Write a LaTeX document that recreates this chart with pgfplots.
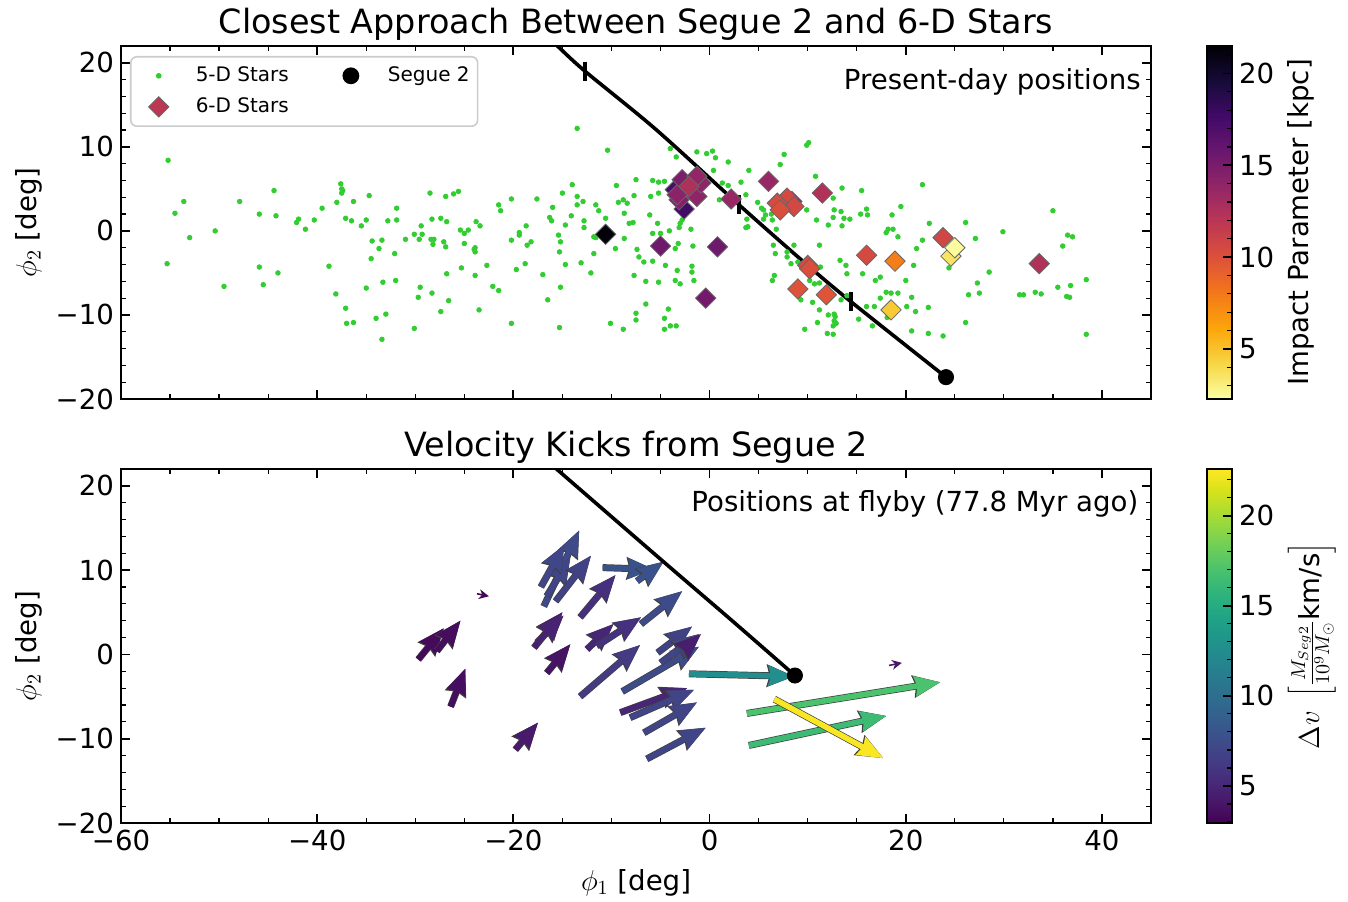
\documentclass[border=0pt]{standalone}
\usepackage{fontspec}
\setmainfont{DejaVu Sans}
\usepackage{pgfplots}
\pgfplotsset{compat=1.18}
\usetikzlibrary{arrows.meta}
\definecolor{limeg}{RGB}{50,205,50}
\definecolor{legdia}{RGB}{188,55,84}
\newcommand{\tfont}{\fontsize{13.8pt}{16pt}\selectfont}
\pgfplotsset{
  colormap={infernor}{rgb255=(252,255,164) rgb255=(246,215,70) rgb255=(252,165,10) rgb255=(243,120,25) rgb255=(221,81,58) rgb255=(188,55,84) rgb255=(147,38,103) rgb255=(106,23,110) rgb255=(66,10,104) rgb255=(22,11,57) rgb255=(0,0,4)},
  colormap/viridis,
  myaxis/.style={
    scale only axis, width=515pt,
    xmin=-60, xmax=45, ymin=-20, ymax=22,
    axis line style={line width=0.9pt},
    tick align=inside, tick pos=both,
    xtick={-60,-40,-20,0,20,40}, minor xtick={-55,-50,...,45},
    ytick={-20,-10,0,10,20}, minor ytick={-18,-16,...,22},
    major tick length=4.5pt, minor tick length=2.5pt,
    major tick style={line width=0.9pt, black},
    minor tick style={line width=0.6pt, black},
    yticklabels={−20,−10,0,10,20},
    tick label style={font=\tfont},
    label style={font=\tfont},
    title style={font=\fontsize{16.7pt}{20pt}\selectfont, at={(0.5,1)}, anchor=base, yshift=0.5pt, inner sep=0pt},
    ylabel={$\phi_2$ [deg]},
  },
  cbaxis/.style={
    scale only axis, width=12.5pt,
    xmin=0, xmax=1, xtick=\empty,
    axis line style={line width=0.8pt},
    tick align=inside, ytick pos=right, yticklabel pos=right,
    major tick length=4.5pt, minor tick length=2.5pt,
    major tick style={line width=0.9pt, black},
    minor tick style={line width=0.6pt, black},
    ytick={5,10,15,20}, yticklabels={5,10,15,20},
    tick label style={font=\tfont},
    label style={font=\tfont},
    axis on top,
  },
}
\begin{document}
\begin{tikzpicture}
\useasboundingbox (0,0) rectangle (674pt,450.5pt);

% ---------------- TOP PANEL ----------------
\begin{axis}[myaxis, at={(60.5pt,251pt)}, anchor=south west, height=176.5pt,
  xticklabels={},
  title={Closest Approach Between Segue 2 and 6-D Stars},
  colormap name=infernor, point meta min=2.27, point meta max=21.5,
  legend columns=2, legend cell align=left,
  legend image code/.code={\path[draw=none,fill=none] (-10pt,-5pt) rectangle (18.5pt,5pt); \draw[sharp corners,#1] plot coordinates {(0pt,0pt)};},
  legend style={at={(axis description cs:0.0087,0.9717)}, anchor=north west,
    draw=black!20, line width=0.8pt, rounded corners=3pt, fill=white,
    font=\fontsize{10pt}{12pt}\selectfont, inner xsep=4pt, inner ysep=4.5pt,
    row sep=5.5pt, column sep=0pt, nodes={inner sep=0pt},
    /tikz/every even column/.append style={column sep=21pt}},
]
\addplot[only marks, mark=*, mark size=1.15pt, color=limeg, forget plot] table {
x y
-55.2 8.4
-54.5 2.1
-53.6 3.5
-53.0 -0.8
-55.3 -3.9
-50.4 0.0
-49.5 -6.6
-47.9 3.5
-45.9 2.0
-44.4 4.8
-44.2 1.8
-45.9 -4.3
-45.5 -6.4
-44.0 -5.0
-42.1 1.0
-41.9 1.4
-41.2 0.2
-40.3 1.3
-39.5 2.7
-38.8 -4.2
-38.1 -7.5
-38.0 3.4
-37.6 5.6
-37.5 5.0
-37.4 4.8
-37.5 4.5
-37.1 1.5
-37.1 -9.2
-37.0 -11.0
-36.3 -10.9
-36.5 1.2
-36.3 3.5
-35.5 0.6
-35.0 1.3
-34.7 4.2
-35.0 -6.8
-34.5 -3.3
-34.4 -1.2
-33.4 -1.1
-33.7 -2.1
-33.3 -6.1
-34.0 -10.4
-33.0 -9.9
-33.4 -12.9
-32.8 1.2
-32.1 -2.7
-32.0 -5.9
-31.9 2.7
-31.9 1.3
-31.0 -1.0
-30.1 -0.4
-29.6 -1.0
-30.1 -11.6
-29.7 -7.9
-29.5 -6.7
-29.4 0.6
-13.5 12.2
-10.4 9.6
-28.5 4.5
-26.9 4.1
-26.1 4.4
-25.6 4.7
-21.5 3.1
-21.3 2.4
-20.2 3.8
-17.6 3.8
-16.0 2.8
-15.0 4.5
-14.0 5.5
-13.5 4.1
-13.5 3.1
-12.9 3.5
-11.6 3.1
-11.3 2.4
-10.6 1.5
-9.5 5.4
-9.3 3.4
-8.8 3.7
-8.4 3.3
-8.7 2.1
-7.5 6.1
-7.7 4.2
-8.2 0.9
-7.8 1.0
-5.8 6.0
-5.2 5.8
-4.6 5.9
-6.0 4.1
-5.2 4.5
-4.0 9.8
-3.4 8.8
-1.3 9.4
-6.1 1.9
-5.3 0.9
-3.0 0.9
-2.8 1.3
-3.1 0.4
-1.9 0.2
-4.1 0.0
-5.8 -0.3
-5.0 -0.3
-29.3 -0.4
-28.3 1.4
-27.4 1.5
-26.8 1.1
-28.4 -1.0
-28.1 -1.0
-28.2 -1.6
-27.1 -1.3
-26.9 -1.9
-25.4 0.1
-25.0 -0.3
-24.6 0.1
-25.0 -1.5
-23.8 1.1
-23.4 0.6
-24.0 -2.2
-23.9 -2.0
-23.9 -2.5
-25.3 -4.4
-26.8 -5.1
-23.9 -5.3
-22.7 -4.1
-28.3 -7.4
-26.6 -8.3
-27.4 -9.6
-23.5 -9.4
-22.1 -6.6
-21.5 -7.1
-20.2 -1.1
-19.4 -0.2
-19.4 -0.5
-18.7 0.6
-18.6 -1.7
-18.2 -1.3
-18.8 -3.9
-19.7 -4.6
-17.0 -5.2
-20.2 -11.0
-16.5 -8.2
-15.2 -6.7
-15.3 -11.5
-16.3 1.6
-16.1 1.2
-15.4 -0.5
-15.2 -1.3
-15.3 -2.5
-14.7 0.7
-14.1 1.8
-14.7 -4.0
-13.1 -3.8
-12.1 -5.0
-12.8 1.2
-12.8 0.4
-11.8 -0.7
-11.6 -0.8
-11.8 -2.7
-9.6 -2.1
-8.7 -0.9
-10.1 -11.0
-8.8 -11.7
-7.7 -5.3
-7.4 -2.2
-7.2 -3.1
-6.7 -3.7
-5.8 -3.6
-6.5 -6.0
-6.5 -8.7
-7.5 -9.8
-7.5 -10.6
-5.2 -6.1
-4.5 -4.1
-3.5 -5.9
-3.0 -6.3
-3.3 -4.7
-3.5 -2.1
-3.2 -1.5
-1.8 -4.2
-1.8 -4.9
-1.7 -1.8
-1.6 -5.9
-4.2 -9.3
-4.6 -10.4
-4.0 -11.3
-3.4 -11.3
-4.6 -11.7
0.3 9.5
-0.3 9.2
0.6 8.7
1.9 8.2
0.4 7.2
1.3 5.7
1.9 5.4
3.2 5.8
4.0 7.2
3.7 4.3
1.0 3.7
4.9 3.4
5.3 2.7
5.5 2.5
6.3 2.0
6.6 2.4
5.7 1.9
7.2 7.9
7.6 9.1
9.9 10.2
10.1 10.5
3.8 1.4
3.9 0.5
3.7 0.4
6.8 0.2
5.5 1.4
6.4 1.3
9.9 2.5
10.8 6.5
13.5 5.1
12.6 3.9
12.7 2.5
13.4 2.3
13.7 1.5
14.3 1.4
12.6 1.6
12.1 0.7
13.5 0.6
10.9 1.3
15.5 4.8
16.0 2.6
16.1 1.9
15.4 2.0
18.6 1.9
18.2 0.2
18.7 0.2
18.0 -0.2
19.2 -0.7
11.2 -1.7
8.6 -1.7
6.5 -1.7
6.7 -2.7
7.9 -2.5
7.9 -3.1
8.3 -3.9
9.0 -3.7
11.3 -4.3
13.3 -3.5
13.9 -4.1
14.0 -5.1
15.6 -5.1
16.9 -5.9
17.4 -5.5
16.0 -3.6
18.8 -3.9
19.2 -3.8
6.4 -5.9
10.2 -5.9
6.6 -5.3
10.7 -6.3
11.2 -6.2
9.3 -8.2
10.5 -8.5
11.2 -9.4
12.1 -10.0
12.7 -9.9
12.8 -10.2
12.7 -10.7
12.9 -11.0
12.6 -11.3
12.0 -12.2
12.6 -12.3
11.0 -10.9
9.7 -11.7
13.4 -8.2
14.0 -7.7
15.2 -10.5
16.0 -9.0
16.8 -9.0
16.6 -11.3
17.4 -8.0
18.0 -7.3
18.5 -7.4
19.2 -7.4
18.1 -10.3
21.7 5.5
19.5 2.9
22.4 0.9
26.1 1.0
21.7 -1.1
21.1 -2.1
27.1 -0.9
29.9 -0.1
35.0 2.4
36.5 -0.5
37.0 -0.7
36.0 -1.8
20.8 -4.1
24.4 -4.4
28.5 -4.9
20.0 -5.9
27.3 -6.2
20.6 -7.9
26.4 -7.6
27.5 -7.4
31.6 -7.6
32.0 -7.6
33.2 -7.3
33.8 -7.5
35.5 -6.7
36.8 -6.5
36.4 -7.8
36.7 -7.9
38.4 -5.8
20.1 -9.0
21.0 -9.6
22.3 -9.1
26.1 -10.9
20.6 -11.9
22.3 -12.2
23.8 -12.5
38.4 -12.3
};
% orbit
\addplot[black, line width=1.8pt, smooth, forget plot] coordinates {
(-17,23.6) (-15.6,22.1) (-12.7,19.0) (-5.5,12.1) (3.0,3.1) (10.0,-4.1) (14.6,-8.6) (24.1,-17.4)};
\addplot[only marks, mark=|, mark size=4.8pt, mark options={line width=1.7pt}, black, forget plot] coordinates {
(-12.7,19.0) (3.0,3.1) (14.4,-8.4)};
% 6-D stars
\addplot[scatter, only marks, mark=square*, mark size=3.6pt, point meta=\thisrow{c},
  scatter/use mapped color={draw=black!60, fill=mapped color},
  mark options={rotate=45, line width=0.4pt}, forget plot] table {
x y c
-10.6 -0.4 21.3
-5.0 -1.8 15.5
0.8 -1.9 15.5
-0.4 -8.0 15.3
-3.5 4.9 17.3
-2.6 2.6 17.7
-3.1 3.7 14.5
-3.3 4.3 14.2
-2.8 6.1 14.8
-1.3 4.1 14.0
-0.9 5.7 14.0
-1.3 6.5 13.8
-2.1 5.3 12.6
2.2 3.8 13.6
6.0 5.9 13.6
11.5 4.5 12.4
8.4 3.5 13.2
7.9 3.9 10.5
8.6 2.9 10.6
6.9 3.3 10.4
7.2 2.5 10.2
10.0 -4.1 10.4
10.2 -4.5 10.2
9.0 -6.9 9.9
11.9 -7.6 9.8
16.0 -2.9 10.5
18.9 -3.6 7.8
18.5 -9.4 4.7
23.8 -0.8 10.7
24.6 -3.0 3.6
25.0 -2.0 2.4
33.6 -3.9 12.4
};
% Segue 2
\addplot[only marks, mark=*, mark size=3.8pt, black, forget plot] coordinates {(24.1,-17.4)};
\addlegendimage{only marks, mark=*, mark size=1pt, limeg}
\addlegendimage{only marks, mark=*, mark size=3.8pt, black}
\addlegendimage{only marks, mark=square*, mark size=3.6pt, mark options={rotate=45, fill=legdia, draw=black!60, line width=0.4pt}}
\legend{5-D Stars, Segue 2, 6-D Stars}
\node[anchor=base east, inner sep=0pt, font=\tfont] at (rel axis cs:0.9903,0.878) {Present-day positions};
\end{axis}

% top colorbar
\begin{axis}[cbaxis, at={(603.5pt,251pt)}, anchor=south west, height=176.5pt,
  ymin=2.27, ymax=21.5, minor ytick={3,...,21},
  colormap name=infernor, point meta min=2.27, point meta max=21.5,
  ylabel={Impact Parameter [kpc]}]
\addplot[surf, shader=interp, mesh/cols=2, point meta=y] table {
x y
0 2.27
1 2.27
0 4.19
1 4.19
0 6.12
1 6.12
0 8.04
1 8.04
0 9.96
1 9.96
0 11.89
1 11.89
0 13.81
1 13.81
0 15.73
1 15.73
0 17.65
1 17.65
0 19.58
1 19.58
0 21.5
1 21.5
};
\end{axis}

% ---------------- BOTTOM PANEL ----------------
\begin{axis}[myaxis, at={(60.5pt,39pt)}, anchor=south west, height=177pt,
  xticklabels={−60,−40,−20,0,20,40},
  xlabel={$\phi_1$ [deg]}, xlabel style={yshift=-2.5pt},
  title={Velocity Kicks from Segue 2},
  colormap name=viridis, point meta min=2.94, point meta max=22.6]
\addplot[point meta=\thisrow{c},
  quiver={u=\thisrow{u}, v=\thisrow{v}, colored,
    every arrow/.append style={line width=2.8pt,
      -{Stealth[length=13pt, width=10.5pt, inset=1.5pt, line width=0pt]},
      preaction={draw=black!75, line width=3.5pt, -{Stealth[length=13.8pt, width=11.6pt, inset=1.6pt, line width=0pt]}}}}]
  table {
x y u v c
-29.7 -0.6 2.6 3.7 3.4
-27.8 0.4 2.4 3.6 3.5
-26.4 -6.2 1.5 4.5 3.6
-19.8 -11.3 2.3 3.2 4.3
-17.9 0.8 2.9 4.2 4.5
-17.6 1.4 2.7 3.2 4.8
-16.6 -2.2 2.4 3.4 3.9
-16.9 5.7 3.6 9.0 7.3
-16.6 6.9 2.4 4.6 7.0
-17.2 8.0 2.4 5.0 7.1
-15.7 6.3 3.6 5.4 6.8
-13.2 4.4 3.6 5.0 5.6
-10.9 10.3 5.2 -0.2 7.9
-7.4 8.7 2.7 2.3 7.8
-12.5 0.6 2.7 3.0 5.0
-11.5 1.0 4.5 3.4 5.7
-7.0 3.6 4.2 3.9 7.4
-13.2 -5.0 6.1 6.1 6.3
-8.9 -4.4 7.8 5.3 7.4
-5.3 0.2 3.5 3.1 6.8
-5.0 -1.0 3.9 3.4 7.0
-2.6 0.6 1.7 1.8 4.5
-9.1 -6.9 6.8 2.9 5.0
-8.1 -7.5 6.5 3.3 6.9
-6.7 -9.3 5.4 3.6 6.9
-6.4 -12.4 6.0 3.7 7.0
-2.1 -2.3 10.7 -0.3 12.6
3.8 -7.0 19.7 3.7 17.0
4.0 -10.8 14.0 3.5 16.4
6.6 -5.3 11.1 -7.0 22.5
};
\addplot[point meta=\thisrow{c},
  quiver={u=\thisrow{u}, v=\thisrow{v}, colored,
    every arrow/.append style={line width=0.8pt,
      -{Stealth[length=5pt, width=5pt, line width=0pt]}}}]
  table {
x y u v c
-23.7 7.2 1.2 -0.3 3.2
18.3 -1.3 1.3 0.3 4.2
};
\addplot[black, line width=1.8pt, smooth] coordinates {
(-17,23.4) (-15.7,22.1) (-4.7,11.0) (2.0,4.3) (8.7,-2.5)};
\addplot[only marks, mark=*, mark size=3.8pt, black] coordinates {(8.7,-2.5)};
\node[anchor=base east, inner sep=0pt, font=\tfont] at (rel axis cs:0.988,0.881) {Positions at flyby (77.8 Myr ago)};
\end{axis}

% bottom colorbar
\begin{axis}[cbaxis, at={(603.5pt,39pt)}, anchor=south west, height=177pt,
  ymin=2.94, ymax=22.6, minor ytick={3,...,22},
  colormap name=viridis, point meta min=2.94, point meta max=22.6,
  ylabel={$\Delta v\ \left[\frac{M_{Seg2}}{10^9 M_\odot}\mbox{km/s}\right]$}]
\addplot[surf, shader=interp, mesh/cols=2, point meta=y] table {
x y
0 2.94
1 2.94
0 4
1 4
0 5
1 5
0 6
1 6
0 7
1 7
0 8
1 8
0 9
1 9
0 10
1 10
0 11
1 11
0 12
1 12
0 13
1 13
0 14
1 14
0 15
1 15
0 16
1 16
0 17
1 17
0 18
1 18
0 19
1 19
0 20
1 20
0 21
1 21
0 22
1 22
0 22.6
1 22.6
};
\end{axis}
\end{tikzpicture}
\end{document}
